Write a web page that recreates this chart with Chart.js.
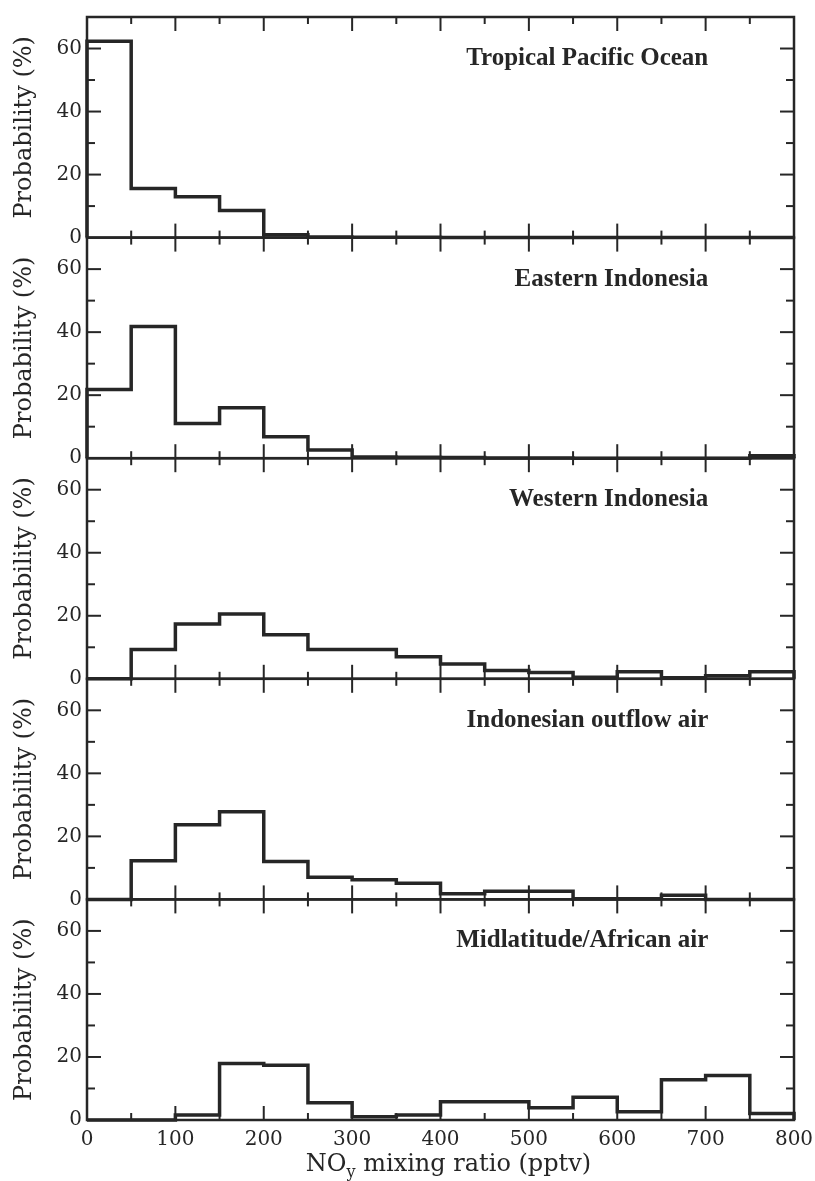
<!DOCTYPE html>
<html>
<head>
<meta charset="utf-8">
<script src="https://cdn.jsdelivr.net/npm/chart.js@4/dist/chart.umd.min.js"></script>
<style>
  html, body { margin: 0; padding: 0; background: #ffffff; }
  #wrap { width: 815px; height: 1181px; position: relative; }
  canvas { display: block; }
</style>
</head>
<body>
<div id="wrap"><canvas id="c" width="815" height="1181" style="width:815px;height:1181px"></canvas></div>
<script>
// ---- data (bins of 50 pptv, value = probability %) ----
const binStarts = [0, 50, 100, 150, 200, 250, 300, 350, 400, 450, 500, 550, 600, 650, 700, 750];
const binEnd = 800;
const yTickLabels = [0, 20, 40, 60];
const panelTitles = ['Tropical Pacific Ocean', 'Eastern Indonesia', 'Western Indonesia', 'Indonesian outflow air', 'Midlatitude/African air'];

const tropicalPacific   = [62.3, 15.6, 13.0, 8.6, 0.9, 0.2, 0.1, 0.1, 0, 0, 0, 0, 0, 0, 0, 0];
const easternIndonesia  = [21.8, 41.8, 11.0, 16.0, 6.8, 2.6, 0.4, 0.3, 0.2, 0.1, 0.1, 0, 0, 0, 0, 0.8];
const westernIndonesia  = [0, 9.3, 17.4, 20.6, 14.0, 9.3, 9.3, 7.0, 4.7, 2.6, 2.0, 0.5, 2.2, 0.3, 1.0, 2.2];
const indonesianOutflow = [0, 12.3, 23.7, 27.8, 12.0, 7.0, 6.2, 5.1, 1.8, 2.6, 2.6, 0.2, 0.2, 1.3, 0, 0];
const midlatAfrican     = [0, 0, 1.6, 17.9, 17.4, 5.5, 1.0, 1.6, 5.8, 5.8, 3.9, 7.2, 2.6, 12.8, 14.1, 2.1];

const panelSeries = [tropicalPacific, easternIndonesia, westernIndonesia, indonesianOutflow, midlatAfrican];

// ---- styling ----
const INK = '#262626';
const SERIF = '"DejaVu Serif", "Liberation Serif", serif';
const panelIds = ['p0', 'p1', 'p2', 'p3', 'p4'];
const Y_MAX = 70;

function stepPoints(vals) {
  const pts = [{ x: binStarts[0], y: 0 }];
  for (let i = 0; i < binStarts.length; i++) pts.push({ x: binStarts[i], y: vals[i] });
  pts.push({ x: binEnd, y: 0 });
  return pts;
}

const datasets = panelSeries.map((vals, i) => ({
  label: panelTitles[i],
  data: stepPoints(vals),
  yAxisID: panelIds[i],
  stepped: true,
  borderColor: INK,
  borderWidth: 3.5,
  pointRadius: 0,
  fill: false,
  tension: 0,
  clip: false,
  borderJoinStyle: 'miter',
  borderCapStyle: 'butt'
}));

function yAxis(i) {
  return {
    type: 'linear',
    position: 'left',
    stack: 'panels',
    stackWeight: 1,
    offset: false,
    min: 0,
    max: Y_MAX,
    grid: { display: false, drawTicks: false },
    border: { display: false },
    ticks: {
      stepSize: 10,
      padding: 5,
      color: INK,
      font: { family: SERIF, size: 20 },
      callback: (v) => (yTickLabels.includes(v) ? String(v) : '')
    },
    title: {
      display: true,
      text: 'Probability (%)',
      color: INK,
      font: { family: SERIF, size: 24 },
      padding: { top: 10, bottom: 0 }
    },
    afterFit: (s) => { s.width = 87; }
  };
}

// later-defined stacked axes are placed on top, so define bottom panel first
const scales = {
  x: {
    type: 'linear',
    position: 'bottom',
    min: 0,
    max: 800,
    grid: { display: false, drawTicks: false },
    border: { display: false },
    ticks: {
      stepSize: 100,
      padding: 8,
      maxRotation: 0,
      color: INK,
      font: { family: SERIF, size: 20 }
    },
    afterFit: (s) => { s.height = 61; s.paddingLeft = 0; s.paddingRight = 0; }
  }
};
for (let i = panelIds.length - 1; i >= 0; i--) scales[panelIds[i]] = yAxis(i);

function seg(ctx, x1, y1, x2, y2) {
  ctx.beginPath(); ctx.moveTo(x1, y1); ctx.lineTo(x2, y2); ctx.stroke();
}

const framePlugin = {
  id: 'panelFrames',
  beforeDatasetsDraw(chart) {
    const ctx = chart.ctx;
    const xs = chart.scales.x;
    const left = chart.chartArea.left, right = chart.chartArea.right;
    ctx.save();
    ctx.strokeStyle = INK;
    ctx.lineCap = 'butt';
    panelIds.forEach((id) => {
      const s = chart.scales[id];
      const top = s.getPixelForValue(Y_MAX);
      const bot = s.getPixelForValue(0);
      ctx.lineWidth = 2.5;
      ctx.strokeRect(left, top, right - left, bot - top);
      ctx.lineWidth = 2;
      for (let v = 50; v < 800; v += 50) {
        const px = xs.getPixelForValue(v);
        const len = v % 100 === 0 ? 14 : 7;
        seg(ctx, px, top, px, top + len);
        seg(ctx, px, bot, px, bot - len);
      }
      for (let v = 10; v < Y_MAX; v += 10) {
        const py = s.getPixelForValue(v);
        const len = v % 20 === 0 ? 14 : 8;
        seg(ctx, left, py, left + len, py);
        seg(ctx, right, py, right - len, py);
      }
    });
    ctx.restore();
  },
  afterDraw(chart) {
    const ctx = chart.ctx;
    const xs = chart.scales.x;
    ctx.save();
    ctx.fillStyle = INK;
    // panel titles
    ctx.font = 'bold 25px "Liberation Serif", "DejaVu Serif", serif';
    ctx.textAlign = 'right';
    ctx.textBaseline = 'alphabetic';
    panelIds.forEach((id, i) => {
      const s = chart.scales[id];
      const top = s.getPixelForValue(Y_MAX);
      ctx.fillText(panelTitles[i], xs.getPixelForValue(703), top + 48);
    });
    // x axis title with subscript
    const big = '24px ' + SERIF, small = '16px ' + SERIF;
    const p1 = 'NO', p2 = 'y', p3 = ' mixing ratio (pptv)';
    ctx.font = big; const w1 = ctx.measureText(p1).width, w3 = ctx.measureText(p3).width;
    ctx.font = small; const w2 = ctx.measureText(p2).width;
    const total = w1 + w2 + w3;
    const cx = (chart.chartArea.left + chart.chartArea.right) / 2 + 8;
    const base = chart.chartArea.bottom + 51;
    let x0 = cx - total / 2;
    ctx.textAlign = 'left';
    ctx.font = big; ctx.fillText(p1, x0, base); x0 += w1;
    ctx.font = small; ctx.fillText(p2, x0, base + 6); x0 += w2;
    ctx.font = big; ctx.fillText(p3, x0, base);
    ctx.restore();
  }
};

new Chart(document.getElementById('c'), {
  type: 'line',
  data: { datasets },
  options: {
    responsive: false,
    animation: false,
    devicePixelRatio: 1,
    layout: { padding: { top: 13, right: 21, left: 0, bottom: 0 } },
    plugins: { legend: { display: false }, tooltip: { enabled: false }, title: { display: false } },
    scales
  },
  plugins: [framePlugin]
});
</script>
</body>
</html>
